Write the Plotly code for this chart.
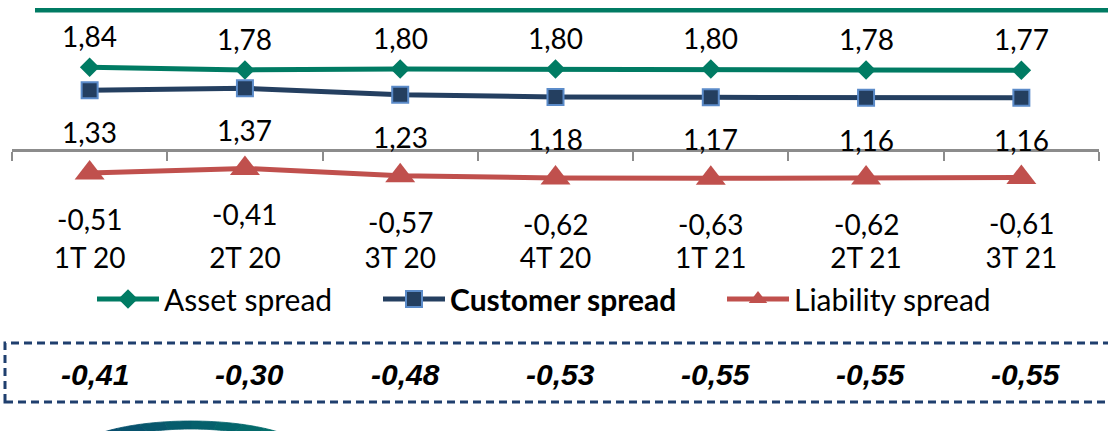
import numpy as np
import plotly.graph_objects as go

# Quarterly spreads (%)
categories = ["1T 20", "2T 20", "3T 20", "4T 20", "1T 21", "2T 21", "3T 21"]
asset_spread = [1.84, 1.78, 1.80, 1.80, 1.80, 1.78, 1.77]
customer_spread = [1.33, 1.37, 1.23, 1.18, 1.17, 1.16, 1.16]
liability_spread = [-0.51, -0.41, -0.57, -0.62, -0.63, -0.62, -0.61]
boxed_values = [-0.41, -0.30, -0.48, -0.53, -0.55, -0.55, -0.55]

GREEN = "#007B63"
NAVY = "#243F60"
NAVY_EDGE = "#5B8BC9"
RED = "#C0504D"
AXIS_GREY = "#8C8C8C"
BOX_BLUE = "#1F3F6E"
FONT = "Lato"

W, H = 1108, 431
M_L, M_R, M_T, M_B = 12, 9, 20, 195
Y_RANGE = [-1.911, 2.889]
plot_w = W - M_L - M_R
plot_h = H - M_T - M_B


def px_x(p):
    return (p - M_L) / plot_w


def px_y(p):
    return (H - M_B - p) / plot_h


def fmt(v):
    return f"{v:.2f}".replace(".", ",")


fig = go.Figure()

fig.add_trace(go.Scatter(
    x=categories, y=asset_spread, name="Asset spread",
    mode="lines+markers", legend="legend",
    line=dict(color=GREEN, width=5),
    marker=dict(symbol="diamond", size=15, color=GREEN),
))
fig.add_trace(go.Scatter(
    x=categories, y=customer_spread, name="<b>Customer spread</b>",
    mode="lines+markers", legend="legend2",
    line=dict(color=NAVY, width=5),
    marker=dict(symbol="square", size=16, color=NAVY,
                line=dict(color=NAVY_EDGE, width=2)),
))
fig.add_trace(go.Scatter(
    x=categories, y=liability_spread, name="Liability spread",
    mode="lines+markers", legend="legend3",
    line=dict(color=RED, width=5),
    marker=dict(symbol="triangle-up", size=26, color=RED),
))

# carrier for the zero axis with boundary ticks
fig.add_trace(go.Scatter(
    x=[-0.5, len(categories) - 0.5], y=[0, 0], xaxis="x2", yaxis="y",
    mode="lines", line=dict(width=0), hoverinfo="skip", showlegend=False,
))

annotations = []
for i, c in enumerate(categories):
    annotations.append(dict(x=c, y=asset_spread[i], text=fmt(asset_spread[i]),
                            showarrow=False, yshift=31))
    annotations.append(dict(x=c, y=customer_spread[i], text=fmt(customer_spread[i]),
                            showarrow=False, yshift=-42))
    annotations.append(dict(x=c, y=liability_spread[i], text=fmt(liability_spread[i]),
                            showarrow=False, yshift=-46))
    annotations.append(dict(x=c, xref="x", y=px_y(374), yref="paper",
                            xanchor="center", yanchor="middle",
                            text=f"<b><i>{fmt(boxed_values[i])}</i></b>",
                            showarrow=False, xshift=5,
                            font=dict(family="Liberation Sans", size=30, color="#000000")))

shapes = [
    # green rule across the top
    dict(type="line", xref="paper", yref="paper",
         x0=px_x(35), x1=px_x(1112), y0=px_y(10.3), y1=px_y(10.3),
         line=dict(color=GREEN, width=4.5)),
    # dashed frame around the bottom row of values
    dict(type="rect", xref="paper", yref="paper",
         x0=px_x(5), x1=px_x(1120), y0=px_y(402), y1=px_y(343),
         line=dict(color=BOX_BLUE, width=3, dash="8px,5px")),
]

# emblem arc at the lower left, shaded navy to teal in segments
cx = 191.0
outer_cy, outer_rx, outer_ry = 456.0, 120.0, 35.0
inner_cy, inner_rx, inner_ry = 458.0, 100.0, 29.0
n_seg = 14
c0 = np.array([0x0B, 0x3C, 0x6E])
c1 = np.array([0x00, 0x80, 0x6A])
angles = np.linspace(np.pi, 0, n_seg + 1)
for k in range(n_seg):
    t = np.linspace(angles[k], angles[k + 1], 8)
    ox = cx + outer_rx * np.cos(t)
    oy = outer_cy - outer_ry * np.sin(t)
    ix = cx + inner_rx * np.cos(t[::-1])
    iy = inner_cy - inner_ry * np.sin(t[::-1])
    xs = np.concatenate([ox, ix])
    ys = np.concatenate([oy, iy])
    path = "M" + " L".join(f"{px_x(a):.5f},{px_y(b):.5f}" for a, b in zip(xs, ys)) + " Z"
    col = c0 + (c1 - c0) * (k + 0.5) / n_seg
    colour = "#%02X%02X%02X" % tuple(int(round(v)) for v in col)
    shapes.append(dict(type="path", xref="paper", yref="paper", path=path,
                       fillcolor=colour, line=dict(width=0.8, color=colour)))

legend_common = dict(orientation="h", xanchor="left", yanchor="middle",
                     y=px_y(299), font=dict(family=FONT, size=30, color="#000000"),
                     itemwidth=62, bgcolor="rgba(0,0,0,0)", borderwidth=0)

fig.update_layout(
    width=W, height=H,
    margin=dict(l=M_L, r=M_R, t=M_T, b=M_B, pad=0),
    paper_bgcolor="white", plot_bgcolor="white",
    font=dict(family=FONT, size=28, color="#000000"),
    showlegend=True,
    legend=dict(x=px_x(92), **legend_common),
    legend2=dict(x=px_x(378), **legend_common),
    legend3=dict(x=px_x(722), **legend_common),
    xaxis=dict(type="category", range=[-0.5, len(categories) - 0.5],
               showline=False, ticks="", showgrid=False, zeroline=False,
               ticklabelstandoff=3,
               tickfont=dict(family=FONT, size=28, color="#000000")),
    xaxis2=dict(overlaying="x", anchor="free",
                position=(0 - Y_RANGE[0]) / (Y_RANGE[1] - Y_RANGE[0]),
                range=[-0.5, len(categories) - 0.5], tick0=-0.5, dtick=1,
                ticks="outside", ticklen=9, tickwidth=2, tickcolor=AXIS_GREY,
                showline=True, linecolor=AXIS_GREY, linewidth=3,
                showticklabels=False, showgrid=False, zeroline=False, side="bottom"),
    yaxis=dict(range=Y_RANGE, visible=False, showgrid=False, zeroline=False),
    annotations=annotations,
    shapes=shapes,
    hovermode=False,
)

fig.write_html("out.html")
